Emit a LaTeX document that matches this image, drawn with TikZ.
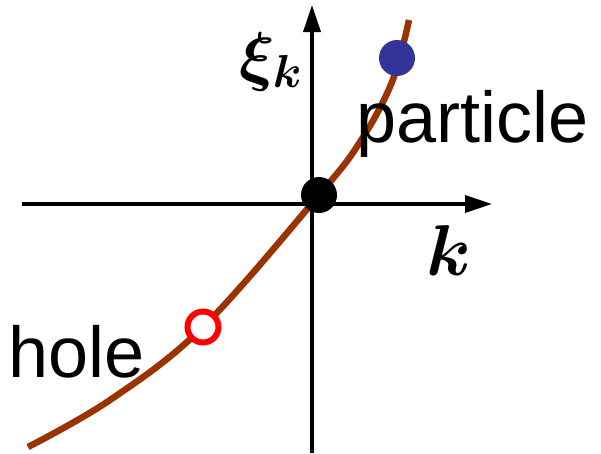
\RequirePackage{fix-cm}
\documentclass[tikz,border=0pt]{standalone}
\usepackage{bm}
\usepackage{fontspec}
\setmainfont{Liberation Sans}
\usepackage{tikz}
\usetikzlibrary{arrows.meta}
\definecolor{dispbrown}{RGB}{153,51,0}
\definecolor{partblue}{RGB}{51,51,153}

\begin{document}
\begin{tikzpicture}[x=1pt, y=1pt,
  axisline/.style={line width=3.6pt, -{Triangle[length=27pt,width=17pt]}},
  bigtext/.style={font=\fontsize{72}{80}\selectfont, inner sep=0pt, anchor=base west},
  dot/.style={circle, inner sep=0pt, minimum size=36pt}]
\useasboundingbox (-312,-249) rectangle (289,204);
% axes
\coordinate (kleft) at (-290,0);
\coordinate (kright) at (180,0);
\coordinate (xibot) at (0,-249);
\coordinate (xitop) at (0,199);
\draw[axisline] (kleft) -- (kright);
\draw[axisline] (xibot) -- (xitop);
% dispersion xi_k
\draw[line width=6.5pt, dispbrown] plot[smooth, tension=0.6] coordinates
  {(-284,-243) (-202,-196) (-109,-123) (7,9) (48,62) (80,122) (97,184)};
% excitations
\node[dot, fill=black] (fermi) at (7,9) {};
\node[dot, fill=partblue] (part) at (85,146) {};
\node[circle, draw=red, line width=6pt, fill=white, inner sep=0pt, minimum size=31pt] (hole) at (-109,-123) {};
% labels
\node[bigtext] (partlbl) at (44,62) {particle};
\node[bigtext] (holelbl) at (-304,-173) {hole};
\node[bigtext] (klbl) at (114,-71) {$\bm{k}$};
\node[bigtext, font=\fontsize{66}{74}\selectfont] (xilbl) at (-73,126) {$\bm{\xi}_{\bm{k}}$};
\end{tikzpicture}
\end{document}
